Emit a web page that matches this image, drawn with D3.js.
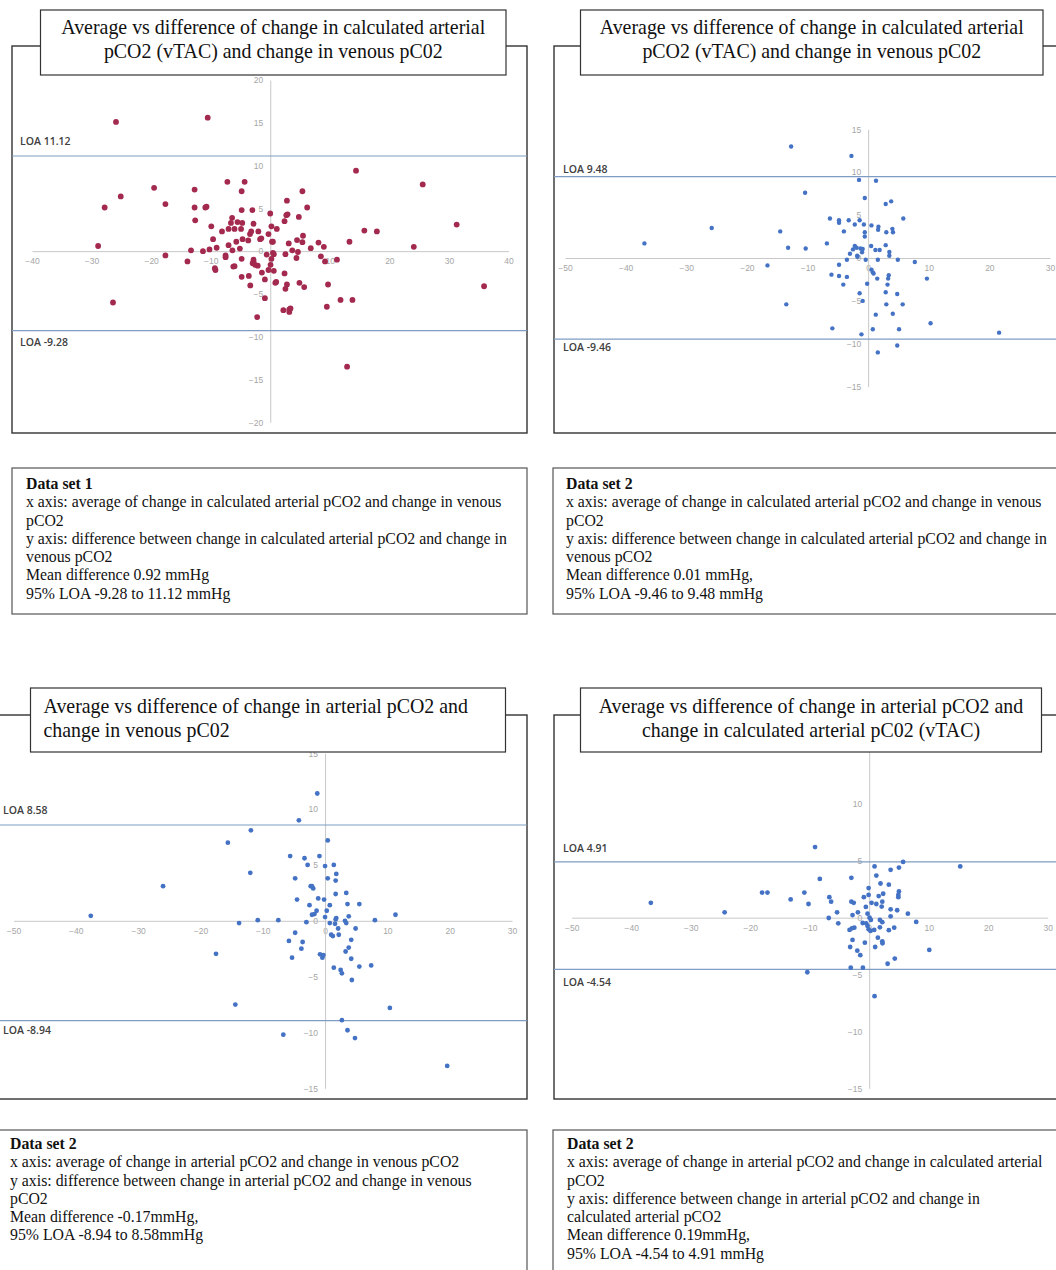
<!DOCTYPE html>
<html lang="en">
<head>
<meta charset="UTF-8">
<title>Average vs difference plots</title>
<script src="https://d3js.org/d3.v7.min.js"></script>
<style>
    body { margin: 0; background: #fff; }
    .tick text { fill: #a6a6a6; font-family: "Liberation Sans", Arial, sans-serif; font-size: 8.5px; }
    .loa-label { fill: #404040; font-family: "Open Sans", sans-serif; font-size: 10.5px; font-weight: 600; }
    .title { fill: #111; font-family: "Liberation Serif", "Times New Roman", serif; font-size: 19.9px; }
    .note { fill: #111; font-family: "Liberation Serif", "Times New Roman", serif; font-size: 15.8px; }
</style>
</head>
<body>
<svg id="chart" width="1056" height="1270"></svg>
<script>
// ---- data ----
const set1Points = [[-25.9,15.1],[-10.5,15.6],[14.4,9.4],[25.6,7.8],[-19.5,7.4],[-25.1,6.4],[-27.8,5.1],[-17.6,5.5],[-12.7,7.2],[-12.7,5.1],[-12.6,3.6],[-10.9,5.1],[-10.7,5.2],[-7.2,8.1],[-4.3,8.1],[-4.8,7.0],[5.4,7.0],[2.8,5.9],[6.2,5.1],[-4.8,4.8],[-3.0,4.8],[0,4.4],[2.9,4.3],[2.7,4.2],[4.8,4.0],[2.4,3.5],[-6.4,3.9],[-6.6,3.3],[-5.5,3.4],[-4.7,3.3],[-2.8,3.2],[-9.9,2.9],[0.2,2.9],[1.1,2.6],[-8.1,2.3],[-7.0,2.6],[-6.0,2.6],[-4.9,2.6],[-3.2,2.3],[-3.4,2.0],[-2.0,2.3],[-0.3,2.0],[15.8,2.4],[17.9,2.3],[31.3,3.1],[24.1,0.5],[13.3,1.1],[5.5,1.8],[-28.9,0.6],[-9.6,1.4],[-4.65,1.4],[-3.7,1.25],[-1.7,1.4],[-1.5,1.5],[0.3,1.1],[0.45,1.1],[3.1,0.9],[4.5,1.3],[5.4,1.05],[8.1,1.0],[9.0,0.5],[6.8,0.35],[-7.0,0.7],[-5.7,1.1],[-9.0,0.4],[-10.2,0.2],[-13.3,0.1],[-11.3,0],[-6.35,0.1],[-5.1,0.3],[3.7,0.1],[4.65,-0.1],[-17.6,-0.5],[-13.9,-1.2],[-7.5,-0.5],[-7.5,-0.7],[-0.6,-0.4],[0.45,-0.2],[0.6,-0.35],[0.2,-0.9],[2.55,-0.35],[4.4,-0.8],[8.5,-0.6],[9.2,-1.2],[11.2,-1.0],[-4.8,-0.9],[-2.8,-1.0],[-2.8,-1.2],[-9.3,-2.0],[-9.2,-2.2],[-6.2,-1.8],[-6.0,-1.75],[-2.95,-1.4],[-2.55,-1.6],[-2.1,-1.7],[0.05,-1.6],[-0.3,-2.2],[-1.4,-2.5],[0.6,-2.3],[2.4,-2.6],[-4.8,-3.0],[-3.6,-2.9],[-0.9,-3.3],[-3.35,-4.0],[0.85,-3.7],[1.0,-3.6],[2.8,-3.9],[2.55,-4.4],[4.9,-3.7],[5.7,-4.2],[9.7,-3.9],[35.9,-4.1],[-0.9,-5.5],[11.8,-5.7],[13.8,-5.7],[-26.4,-6.0],[9.5,-6.5],[2.2,-6.9],[3.2,-6.8],[3.2,-7.1],[3.4,-6.7],[-2.2,-7.7],[12.9,-13.5]];

const set2Points = [[-12.7,13.0],[-2.75,11.9],[-1.5,9.1],[1.3,9.0],[-10.4,7.6],[-0.55,7.0],[2.9,6.3],[3.8,6.6],[-6.3,4.6],[-4.8,4.4],[-4.8,4.1],[-3.2,4.4],[-1.4,4.4],[5.8,4.6],[-2.2,3.9],[-0.7,3.9],[0.55,3.8],[1.7,3.65],[1.65,3.3],[4.0,3.4],[3.0,3.0],[4.1,3.0],[-4.0,3.1],[-0.55,3.0],[-0.55,2.5],[-14.5,3.1],[-25.8,3.5],[-36.9,1.7],[-13.2,1.2],[-10.3,1.1],[-6.8,1.7],[-2.2,1.4],[-1.9,1.2],[-1.26,1.1],[-0.9,1.05],[-2.5,1.0],[-3.0,0.5],[-1.0,0.66],[-1.8,0.27],[-1.75,0.15],[0.5,1.4],[1.2,0.93],[1.9,0.93],[2.9,1.5],[3.5,0.7],[3.5,0.27],[-3.5,-0.2],[-0.4,-0.2],[1.6,-0.2],[4.9,-0.2],[7.7,-0.47],[-16.6,-0.86],[-4.8,-0.78],[0.55,-1.36],[0.77,-1.67],[0.9,-1.8],[-6.05,-1.94],[-4.8,-2.1],[-3.5,-2.2],[1.5,-2.4],[3.4,-2.0],[3.3,-2.4],[9.7,-2.4],[-4.1,-3.1],[-0.16,-3.0],[3.2,-3.1],[-1.4,-4.1],[2.9,-4.0],[4.8,-4.2],[-0.9,-5.0],[-13.5,-5.4],[3.0,-5.4],[5.7,-5.4],[4.07,-6.5],[1.26,-6.6],[10.3,-7.6],[-5.9,-8.2],[0.77,-8.3],[5.1,-8.3],[-1.1,-8.9],[21.6,-8.7],[4.8,-10.2],[1.6,-11.0]];

const set3Points = [[-1.25,11.4],[-4.2,9.0],[-11.9,8.1],[-15.6,7.0],[0.43,7.2],[-5.6,5.8],[-3.3,5.6],[-0.9,5.8],[-2.8,5.0],[0,4.9],[1.4,5.0],[-12.0,4.3],[-4.8,3.8],[0.43,3.8],[1.8,4.2],[1.7,3.6],[-26.0,3.1],[-2.3,3.1],[-1.9,2.9],[-2.1,3.1],[1.7,2.4],[3.4,2.5],[-4.5,1.9],[-1.1,2.0],[-0.16,1.9],[-2.5,1.4],[0.76,1.4],[3.6,1.5],[5.5,1.5],[-1.36,0.9],[0.27,0.9],[-2.1,0.54],[-1.7,0.6],[-37.6,0.45],[11.3,0.54],[0,0.33],[3.8,0.4],[-13.8,-0.2],[-10.8,0.06],[-7.5,0.06],[-3.0,-0.12],[1.8,0.24],[1.7,0.12],[3.2,0],[3.4,-0.2],[8.0,0.06],[0.76,-0.2],[1.6,-0.27],[-4.8,-1.07],[2.1,-0.69],[4.9,-0.69],[0.98,-1.25],[1.25,-1.37],[2.2,-1.25],[-5.8,-1.8],[-3.6,-1.9],[4.2,-1.7],[-3.8,-2.5],[3.8,-2.4],[3.3,-2.75],[-17.5,-2.96],[-0.81,-3.0],[-0.27,-3.07],[-0.43,-3.3],[-5.3,-3.3],[4.2,-3.4],[5.5,-4.1],[7.4,-4.0],[1.4,-4.2],[2.5,-4.4],[2.7,-4.7],[4.3,-5.3],[-14.4,-7.5],[10.4,-7.8],[2.7,-8.9],[3.6,-9.8],[-6.7,-10.2],[4.8,-10.5],[19.6,-13.0]];

const set4Points = [[-9.1,6.2],[5.7,4.9],[15.3,4.5],[0.9,4.5],[3.6,4.2],[5.0,4.4],[1.2,3.7],[-8.3,3.4],[-3.0,3.5],[1.9,3.0],[3.3,2.9],[-0.1,2.6],[-18.0,2.2],[-17.1,2.2],[-10.9,2.2],[5.0,2.3],[4.9,2.0],[4.9,1.8],[2.35,2.1],[1.6,1.9],[-0.1,2.0],[-0.9,1.8],[-6.7,1.8],[-6.4,1.4],[-13.2,1.6],[-10.2,1.2],[-36.7,1.3],[-3.0,1.4],[-2.6,1.3],[0.4,1.3],[1.2,1.2],[2.2,1.4],[2.1,0.97],[-0.56,0.94],[3.6,0.73],[4.7,0.65],[-24.3,0.47],[-5.4,0.47],[-1.9,0.47],[-2.8,0.23],[-0.28,0.35],[6.5,0.35],[3.6,0.12],[-6.8,-0.03],[0.06,0],[0.28,-0.2],[1.8,-0.2],[2.2,-0.4],[7.9,-0.38],[-5.2,-0.5],[-1.1,-0.47],[-0.5,-0.5],[-0.28,-0.73],[4.2,-0.88],[-2.5,-0.88],[-2.9,-0.94],[-3.3,-1.08],[-0.1,-1.03],[0.22,-1.17],[0.84,-1.08],[1.8,-0.85],[3.3,-1.1],[1.46,-1.76],[2.2,-2.08],[2.24,-2.26],[-2.8,-1.96],[-0.73,-2.2],[1.0,-2.58],[-3.2,-2.58],[-2.0,-2.9],[-1.5,-3.3],[10.1,-2.84],[4.3,-3.6],[3.1,-4.05],[-3.1,-4.4],[-1.06,-4.4],[-10.4,-4.8],[0.9,-6.9]];

const set1XTicks = [-40, -30, -20, -10, 0, 10, 20, 30, 40];
const set1YTicks = [-20, -15, -10, -5, 0, 5, 10, 15, 20];
const wideXTicks = [-50, -40, -30, -20, -10, 0, 10, 20, 30];
const wideYTicks = [-15, -10, -5, 0, 5, 10, 15];

const set1Loa = [11.12, -9.28];
const set2Loa = [9.48, -9.46];
const set3Loa = [8.58, -8.94];
const set4Loa = [4.91, -4.54];

const title1 = ['Average vs difference of change in calculated arterial', 'pCO2 (vTAC) and change in venous pC02'];
const title2 = ['Average vs difference of change in calculated arterial', 'pCO2 (vTAC) and change in venous pC02'];
const title3 = ['Average vs difference of change in arterial pCO2 and', 'change in venous pC02'];
const title4 = ['Average vs difference of change in arterial pCO2 and', 'change in calculated arterial pC02 (vTAC)'];

const note1 = ['Data set 1',
    'x axis: average of change in calculated arterial pCO2 and change in venous',
    'pCO2',
    'y axis: difference between change in calculated arterial pCO2 and change in',
    'venous pCO2',
    'Mean difference 0.92 mmHg',
    '95% LOA -9.28 to 11.12 mmHg'];
const note2 = ['Data set 2',
    'x axis: average of change in calculated arterial pCO2 and change in venous',
    'pCO2',
    'y axis: difference between change in calculated arterial pCO2 and change in',
    'venous pCO2',
    'Mean difference 0.01 mmHg,',
    '95% LOA -9.46 to 9.48 mmHg'];
const note3 = ['Data set 2',
    'x axis: average of change in arterial pCO2 and change in venous pCO2',
    'y axis: difference between change in arterial pCO2 and change in venous',
    'pCO2',
    'Mean difference -0.17mmHg,',
    '95% LOA -8.94 to 8.58mmHg'];
const note4 = ['Data set 2',
    'x axis: average of change in arterial pCO2 and change in calculated arterial',
    'pCO2',
    'y axis: difference between change in arterial pCO2 and change in',
    'calculated arterial pCO2',
    'Mean difference 0.19mmHg,',
    '95% LOA -4.54 to 4.91 mmHg'];

// ---- layout ----
const RED = '#a3294f', BLUE = '#4472c4';

const panels = [
    { points: set1Points, color: RED, r: 2.9, loa: set1Loa, xTicks: set1XTicks, yTicks: set1YTicks,
      xDomain: [-40, 40], yDomain: [-20, 20], xRange: [32, 508.5], yRange: [422.3, 80],
      box: [12, 46, 527, 433], loaX: 20, loaDy: [15, 12],
      titleBox: [40.5, 10, 506, 75], title: title1, titleAnchor: 'middle', titleY: 34,
      noteBox: [12, 468, 527, 614], note: note1, noteX: 26, noteY: 489 },
    { points: set2Points, color: BLUE, r: 2.2, loa: set2Loa, xTicks: wideXTicks, yTicks: wideYTicks,
      xDomain: [-50, 30], yDomain: [-15, 15], xRange: [565, 1050], yRange: [386.7, 129.3],
      box: [554, 46, 1062, 433], loaX: 563, loaDy: [7, 8],
      titleBox: [580.5, 10, 1043, 75], title: title2, titleAnchor: 'middle', titleY: 34,
      noteBox: [553, 468, 1062, 614], note: note2, noteX: 566, noteY: 489 },
    { points: set3Points, color: BLUE, r: 2.4, loa: set3Loa, xTicks: wideXTicks, yTicks: wideYTicks,
      xDomain: [-50, 30], yDomain: [-15, 15], xRange: [13.5, 512], yRange: [1088.3, 753.3],
      box: [-2, 715, 527, 1099], loaX: 3, loaDy: [15, 10],
      titleBox: [30.5, 688, 505.5, 752], title: title3, titleAnchor: 'start', titleY: 713,
      noteBox: [-2, 1130, 527, 1280], note: note3, noteX: 10, noteY: 1149 },
    { points: set4Points, color: BLUE, r: 2.4, loa: set4Loa, xTicks: wideXTicks, yTicks: wideYTicks,
      xDomain: [-50, 30], yDomain: [-15, 15], xRange: [571.7, 1047.7], yRange: [1088.3, 747],
      box: [554, 715, 1062, 1099], loaX: 563, loaDy: [14, 13],
      titleBox: [580.5, 688, 1041.5, 752], title: title4, titleAnchor: 'middle', titleY: 713,
      noteBox: [553, 1130, 1062, 1280], note: note4, noteX: 567, noteY: 1149 }
];

const svg = d3.select('#chart');

panels.forEach(p => {
    const g = svg.append('g');
    const x = d3.scaleLinear().domain(p.xDomain).range(p.xRange);
    const y = d3.scaleLinear().domain(p.yDomain).range(p.yRange);

    // outer frame
    g.append('rect')
        .attr('x', p.box[0]).attr('y', p.box[1])
        .attr('width', p.box[2] - p.box[0]).attr('height', p.box[3] - p.box[1])
        .attr('fill', '#fff').attr('stroke', '#333').attr('stroke-width', 1.4);

    // axes crossing at zero
    const xAxis = d3.axisBottom(x).tickValues(p.xTicks).tickSize(0).tickPadding(7);
    const yAxis = d3.axisLeft(y).tickValues(p.yTicks).tickSize(0).tickPadding(7);

    g.append('g').attr('transform', 'translate(0,' + y(0) + ')').call(xAxis)
        .call(a => a.select('.domain').attr('stroke', '#c8c8c8'));
    g.append('g').attr('transform', 'translate(' + x(0) + ',0)').call(yAxis)
        .call(a => a.select('.domain').attr('stroke', '#c8c8c8'));

    // limits of agreement
    g.selectAll('.loa').data(p.loa).enter().append('line')
        .attr('x1', p.box[0]).attr('x2', p.box[2])
        .attr('y1', d => y(d)).attr('y2', d => y(d))
        .attr('stroke', '#7f9dc4').attr('stroke-width', 1.2);

    g.selectAll('.loa-label').data(p.loa).enter().append('text')
        .attr('class', 'loa-label')
        .attr('x', p.loaX)
        .attr('y', d => (d > 0 ? y(d) - p.loaDy[0] : y(d) + p.loaDy[1]) + 3.8)
        .text(d => 'LOA ' + d);

    // points
    g.selectAll('circle').data(p.points).enter().append('circle')
        .attr('cx', d => x(d[0])).attr('cy', d => y(d[1]))
        .attr('r', p.r).attr('fill', p.color);

    // title box
    const tb = p.titleBox;
    g.append('rect')
        .attr('x', tb[0]).attr('y', tb[1])
        .attr('width', tb[2] - tb[0]).attr('height', tb[3] - tb[1])
        .attr('fill', '#fff').attr('stroke', '#333').attr('stroke-width', 1.2);
    const tx = p.titleAnchor === 'middle' ? (tb[0] + tb[2]) / 2 : tb[0] + 13;
    g.selectAll('.title').data(p.title).enter().append('text')
        .attr('class', 'title')
        .attr('text-anchor', p.titleAnchor)
        .attr('x', tx)
        .attr('y', (d, i) => p.titleY + i * 23.5)
        .text(d => d);

    // description box
    const nb = p.noteBox;
    g.append('rect')
        .attr('x', nb[0]).attr('y', nb[1])
        .attr('width', nb[2] - nb[0]).attr('height', nb[3] - nb[1])
        .attr('fill', '#fff').attr('stroke', '#555').attr('stroke-width', 1.2);
    g.selectAll('.note').data(p.note).enter().append('text')
        .attr('class', 'note')
        .attr('x', p.noteX)
        .attr('y', (d, i) => p.noteY + i * 18.25)
        .style('font-weight', (d, i) => i === 0 ? 'bold' : 'normal')
        .text(d => d);
});
</script>
</body>
</html>
